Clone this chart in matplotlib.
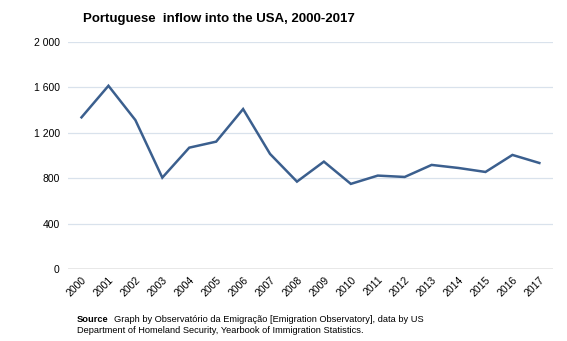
import matplotlib
matplotlib.use("Agg")
import matplotlib.pyplot as plt

plt.rcParams['font.family'] = ['Liberation Sans', 'DejaVu Sans']

years = [str(y) for y in range(2000, 2018)]
inflow = [1336, 1614, 1312, 805, 1069, 1122, 1409, 1014, 770, 946,
          750, 823, 811, 917, 890, 855, 1005, 934]
yticks = [0, 400, 800, 1200, 1600, 2000]
ytick_labels = ["0", "400", "800", "1 200", "1 600", "2 000"]

fig = plt.figure(figsize=(5.67, 3.41), dpi=100)
ax = fig.add_axes([0.12, 0.211, 0.855, 0.666])

x = list(range(len(years)))
ax.plot(x, inflow, color='#3b5f8e', linewidth=1.8, solid_joinstyle='miter')
ax.set_xlim(-0.5, len(years) - 0.5)
ax.set_ylim(0, 2000)
ax.set_yticks(yticks)
ax.set_yticklabels(ytick_labels, fontsize=7.5)
ax.set_xticks(x)
ax.set_xticklabels(years, rotation=45, ha='right', rotation_mode='anchor', fontsize=7.5)
ax.tick_params(axis='both', length=0, pad=6)
ax.tick_params(axis='x', pad=4)
for v in yticks[1:]:
    ax.axhline(v, color='#d9e2ec', linewidth=0.9, zorder=0)
ax.axhline(0, color='#8c8c8c', linewidth=1.0, zorder=1)
for s in ax.spines.values():
    s.set_visible(False)

fig.text(0.147, 0.945, "Portuguese  inflow into the USA, 2000-2017", fontsize=9.5,
         fontweight='bold', ha='left', va='center')
fig.text(0.136, 0.063, "Source", fontsize=6.7, fontweight='bold', ha='left', va='center')
fig.text(0.201, 0.063, "Graph by Observatório da Emigração [Emigration Observatory], data by US",
         fontsize=6.7, ha='left', va='center')
fig.text(0.136, 0.030, "Department of Homeland Security, Yearbook of Immigration Statistics.",
         fontsize=6.7, ha='left', va='center')

fig.savefig("out.png", dpi=100)
